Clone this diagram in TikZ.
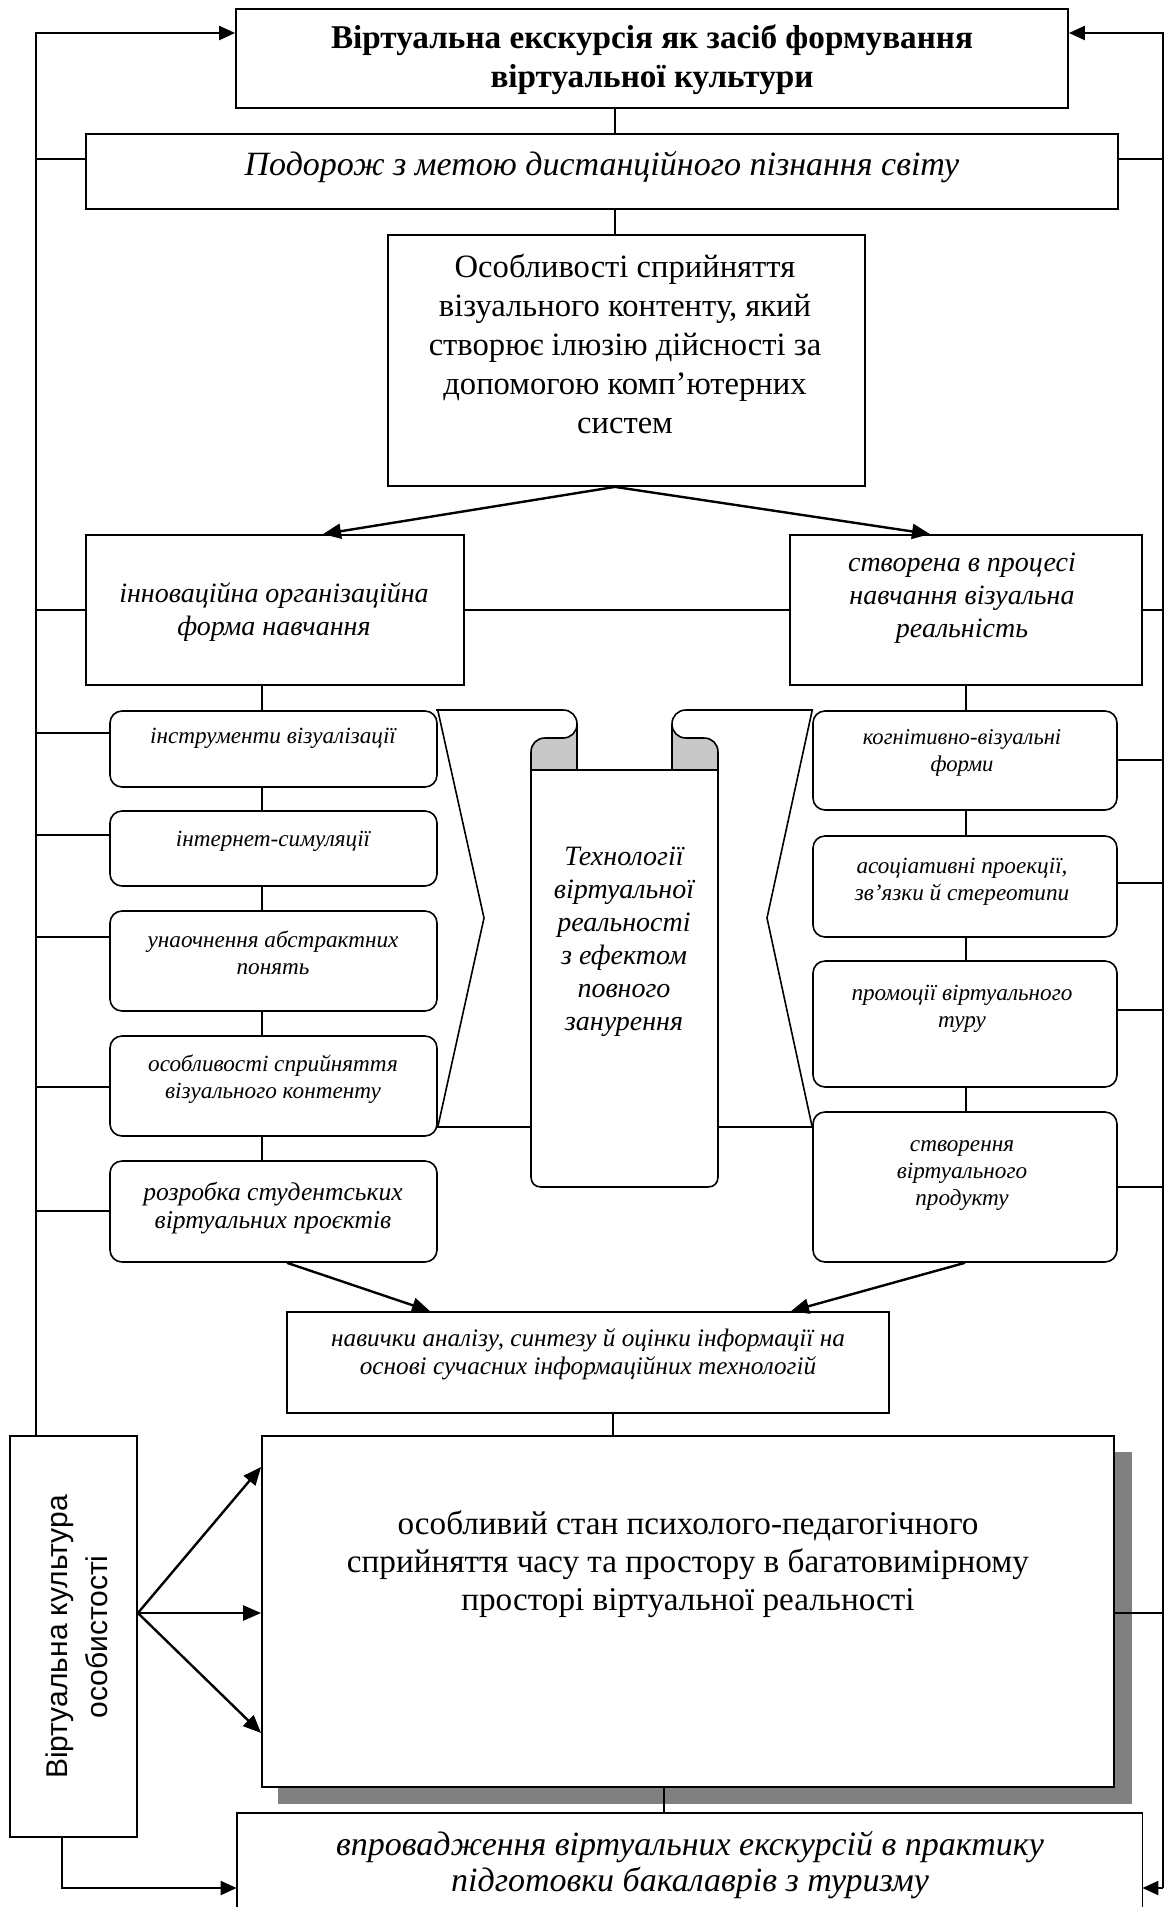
\documentclass[tikz,border=0pt]{standalone}
\usepackage{fontspec}
\setmainfont{Liberation Serif}
\setsansfont{Liberation Sans}
\usetikzlibrary{arrows.meta,fit}
\definecolor{shadowgray}{HTML}{808080}
\definecolor{curlgray}{HTML}{C8C8C8}
\begin{document}
\begin{tikzpicture}[x=0.5pt,y=-0.5pt,
  box/.style={draw,line width=0.9pt,fill=white,inner sep=0pt},
  rbox/.style={draw,line width=0.8pt,fill=white,rounded corners=6pt,inner sep=0pt},
  conn/.style={line width=0.75pt},
  outer/.style={line width=1.1pt},
  arr/.style={line width=1.2pt,-{Triangle[length=9pt,width=7.5pt]}},
  oarr/.style={line width=1.1pt,-{Triangle[length=8pt,width=7pt]}},
  txt/.style={align=center,inner sep=0pt},
  fbig/.style={font=\fontsize{16.3}{19.5}\selectfont},
  fmid/.style={font=\itshape\fontsize{14}{16.5}\selectfont},
  fsm/.style={font=\itshape\fontsize{11.6}{13.5}\selectfont},
]
\useasboundingbox (0,0) rectangle (1171,1907);

% ---------- boxes ----------
\node[box,fit={(236,9)(1068,108)}] (top) {};
\node[box,fit={(86,134)(1118,209)}] (b2) {};
\node[box,fit={(388,235)(865,486)}] (b3) {};
\node[box,fit={(86,535)(464,685)}] (bL) {};
\node[box,fit={(790,535)(1142,685)}] (bR) {};

\node[rbox,fit={(110,711)(437,787)}] (L1) {};
\node[rbox,fit={(110,811)(437,886)}] (L2) {};
\node[rbox,fit={(110,911)(437,1011)}] (L3) {};
\node[rbox,fit={(110,1036)(437,1136)}] (L4) {};
\node[rbox,fit={(110,1161)(437,1262)}] (L5) {};

\node[rbox,fit={(813,711)(1117,810)}] (R1) {};
\node[rbox,fit={(813,836)(1117,937)}] (R2) {};
\node[rbox,fit={(813,961)(1117,1087)}] (R3) {};
\node[rbox,fit={(813,1112)(1117,1262)}] (R4) {};

\node[box,fit={(287,1312)(889,1413)}] (nav) {};
\fill[shadowgray] (278,1452) rectangle (1132,1804);
\node[box,fit={(262,1436)(1114,1787)}] (big) {};
\node[box,fit={(10,1436)(137,1837)}] (vb) {};
\node[inner sep=0pt,fit={(237,1813)(1142,1907)}] (bot) {};
\draw[line width=0.9pt] (bot.south west) -- (bot.north west) -- (bot.north east) -- (bot.south east);

% ---------- scroll and chevrons ----------
\fill[curlgray] (563,738) -- (545,738) .. controls (537,738) and (531,744) .. (531,752) -- (531,770) -- (577,770) -- (577,724) .. controls (577,732) and (571,738) .. (563,738);
\fill[curlgray] (686,738) -- (704,738) .. controls (712,738) and (718,744) .. (718,752) -- (718,770) -- (672,770) -- (672,724) .. controls (672,732) and (678,738) .. (686,738);
\draw[line width=0.8pt] (436,710) -- (563,710) .. controls (571,710) and (577,716) .. (577,724) .. controls (577,732) and (571,738) .. (563,738) -- (545,738) .. controls (537,738) and (531,744) .. (531,752) -- (531,1177) .. controls (531,1183) and (535,1187) .. (541,1187) -- (708,1187) .. controls (714,1187) and (718,1183) .. (718,1177) -- (718,752) .. controls (718,744) and (712,738) .. (704,738) -- (686,738) .. controls (678,738) and (672,732) .. (672,724) .. controls (672,716) and (678,710) .. (686,710) -- (813,710);
\draw[line width=0.8pt] (577,724) -- (577,770) (672,724) -- (672,770) (531,770) -- (718,770);
\draw[line width=0.8pt] (L1.north east) -- (484,918) -- (L4.east |- 0,1127) -- (531,1127);
\draw[line width=0.8pt] (R1.north west) -- (767,918) -- (R4.west |- 0,1127) -- (718,1127);

% ---------- texts ----------
\node[txt,font=\bfseries\fontsize{16.6}{19.5}\selectfont] (ttop) at (652,60) {Віртуальна екскурсія як засіб формування\\віртуальної культури};
\node[txt,font=\itshape\fontsize{17}{20}\selectfont] (tb2) at (602,167) {Подорож з метою дистанційного пізнання світу};
\node[txt,fbig] (tb3) at (625,344) {Особливості сприйняття\\візуального контенту, який\\створює ілюзію дійсності за\\допомогою комп’ютерних\\систем};
\node[txt,fmid] (tbL) at (274,612) {інноваційна організаційна\\форма навчання};
\node[txt,fmid] (tbR) at (962,598) {створена в процесі\\навчання візуальна\\реальність};
\node[txt,fsm] (tL1) at (273,738) {інструменти візуалізації};
\node[txt,fsm] (tL2) at (273,841) {інтернет-симуляції};
\node[txt,fsm] (tL3) at (273,953) {унаочнення абстрактних\\понять};
\node[txt,fsm] (tL4) at (273,1079) {особливості сприйняття\\візуального контенту};
\node[txt,font=\itshape\fontsize{12.8}{14}\selectfont] (tL5) at (273,1208) {розробка студентських\\віртуальних проєктів};
\node[txt,font=\itshape\fontsize{11.3}{13.5}\selectfont] (tR1) at (962,753) {когнітивно-візуальні\\форми};
\node[txt,fsm] (tR2) at (962,882) {асоціативні проекції,\\зв’язки й стереотипи};
\node[txt,fsm] (tR3) at (962,1009) {промоції віртуального\\туру};
\node[txt,fsm] (tR4) at (962,1176) {створення\\віртуального\\продукту};
\node[txt,fmid] (tsc) at (624,942) {Технології\\віртуальної\\реальності\\з ефектом\\повного\\занурення};
\node[txt,font=\itshape\fontsize{12.6}{14}\selectfont] (tnav) at (588,1354) {навички аналізу, синтезу й оцінки інформації на\\основі сучасних інформаційних технологій};
\node[txt,font=\fontsize{16.6}{19}\selectfont] (tbig) at (688,1564) {особливий стан психолого-педагогічного\\сприйняття часу та простору в багатовимірному\\просторі віртуальної реальності};
\node[txt,rotate=90,font=\sffamily\fontsize{15}{20}\selectfont] (tvb) at (77,1637) {Віртуальна культура\\особистості};
\node[txt,font=\itshape\fontsize{17}{18}\selectfont] (tbot) at (690,1865) {впровадження віртуальних екскурсій в практику\\підготовки бакалаврів з туризму};

% ---------- connectors ----------
\coordinate (oL) at (36,33);
\coordinate (oR) at (1163,33);
\coordinate (oRb) at (1163,1888);
\draw[oarr] (vb.north -| oL) -- (oL) -- (top.west |- oL);
\draw[oarr] (oRb) -- (oR) -- (top.east |- oR);
\draw[oarr] (oRb) -- (bot.east |- oRb);
\draw[oarr] (vb.south -| 62,0) -- (62,1888) -- (bot.west |- 0,1888);

\draw[conn] (top.south -| 615,0) -- (b2.north -| 615,0);
\draw[conn] (b2.south -| 615,0) -- (b3.north -| 615,0);
\draw[outer] (oL |- 0,159) -- (b2.west |- 0,159);
\draw[outer] (b2.east |- 0,159) -- (oR |- 0,159);
\draw[arr] (b3.south -| 615,0) -- (bL.north -| 323,0);
\draw[arr] (b3.south -| 615,0) -- (bR.north -| 930,0);
\draw[conn] (oL |- 0,610) -- (bL.west |- 0,610);
\draw[conn] (bL.east |- 0,610) -- (bR.west |- 0,610);
\draw[conn] (bR.east |- 0,610) -- (oR |- 0,610);

\draw[conn] (bL.south -| 262,0) -- (L1.north -| 262,0);
\draw[conn] (L1.south -| 262,0) -- (L2.north -| 262,0);
\draw[conn] (L2.south -| 262,0) -- (L3.north -| 262,0);
\draw[conn] (L3.south -| 262,0) -- (L4.north -| 262,0);
\draw[conn] (L4.south -| 262,0) -- (L5.north -| 262,0);
\draw[conn] (bR.south) -- (R1.north -| bR.south);
\draw[conn] (R1.south -| bR.south) -- (R2.north -| bR.south);
\draw[conn] (R2.south -| bR.south) -- (R3.north -| bR.south);
\draw[conn] (R3.south -| bR.south) -- (R4.north -| bR.south);

\draw[conn] (oL |- 0,733) -- (L1.west |- 0,733);
\draw[conn] (oL |- 0,835) -- (L2.west |- 0,835);
\draw[conn] (oL |- 0,937) -- (L3.west |- 0,937);
\draw[conn] (oL |- 0,1087) -- (L4.west |- 0,1087);
\draw[conn] (oL |- 0,1211) -- (L5.west |- 0,1211);
\draw[conn] (R1.east |- 0,760) -- (oR |- 0,760);
\draw[conn] (R2.east |- 0,883) -- (oR |- 0,883);
\draw[conn] (R3.east |- 0,1010) -- (oR |- 0,1010);
\draw[conn] (R4.east |- 0,1187) -- (oR |- 0,1187);

\draw[arr] (L5.south -| 287,0) -- (nav.north -| 430,0);
\draw[arr] (R4.south) -- (nav.north -| 791,0);
\draw[conn] (nav.south -| 613,0) -- (big.north -| 613,0);
\draw[arr] (vb.east |- 0,1613) -- (big.west |- 0,1467);
\draw[arr] (vb.east |- 0,1613) -- (big.west |- 0,1613);
\draw[arr] (vb.east |- 0,1613) -- (big.west |- 0,1733);
\draw[conn] (big.east |- 0,1613) -- (oR |- 0,1613);
\draw[conn] (big.south -| 664,0) -- (bot.north -| 664,0);
\end{tikzpicture}
\end{document}
